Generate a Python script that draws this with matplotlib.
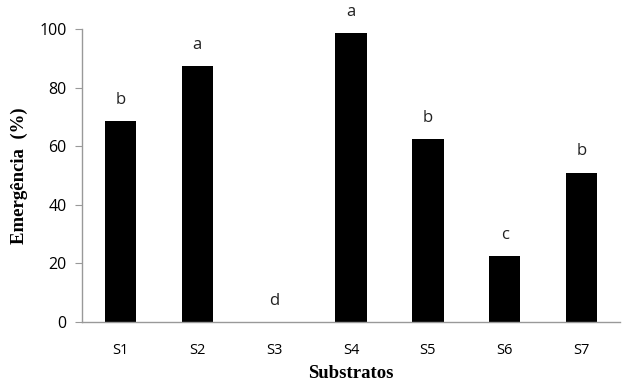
import matplotlib
matplotlib.use('Agg')
import matplotlib.pyplot as plt

# data
substratos = ['S1', 'S2', 'S3', 'S4', 'S5', 'S6', 'S7']
emergencia = [68.5, 87.3, 0.0, 98.7, 62.5, 22.5, 51.0]
letras = ['b', 'a', 'd', 'a', 'b', 'c', 'b']

fig = plt.figure(figsize=(6.24, 3.82), dpi=100)
ax = fig.add_axes([82 / 624, 1 - 322 / 382, (620 - 82) / 624, (322 - 29) / 382])

x = range(len(substratos))
ax.bar(x, emergencia, width=0.41, color='black')
for xi, v, l in zip(x, emergencia, letras):
    ax.text(xi, v + 4.5, l, ha='center', va='bottom', fontsize=12,
            fontfamily='Open Sans', color='#222222')

ax.set_xlim(-0.5, 6.5)
ax.set_ylim(0, 100)
ax.set_yticks([0, 20, 40, 60, 80, 100])
ax.set_xticks(list(x))
ax.set_xticklabels(substratos)

for s in ['top', 'right']:
    ax.spines[s].set_visible(False)
for s in ['left', 'bottom']:
    ax.spines[s].set_color('#999999')
    ax.spines[s].set_linewidth(1.0)
ax.tick_params(axis='y', length=5, color='#999999', labelsize=11.5, pad=6)
ax.tick_params(axis='x', length=0, labelsize=10.5, pad=15)
for lab in ax.get_yticklabels() + ax.get_xticklabels():
    lab.set_fontfamily('Open Sans')

ax.set_ylabel('Emergência  (%)', fontsize=13.5, fontweight='bold',
              fontfamily='Liberation Serif', labelpad=8)
ax.set_xlabel('Substratos', fontsize=13.5, fontweight='bold',
              fontfamily='Liberation Serif', labelpad=5)

plt.savefig('out.png', dpi=100, facecolor='white')
plt.close()
